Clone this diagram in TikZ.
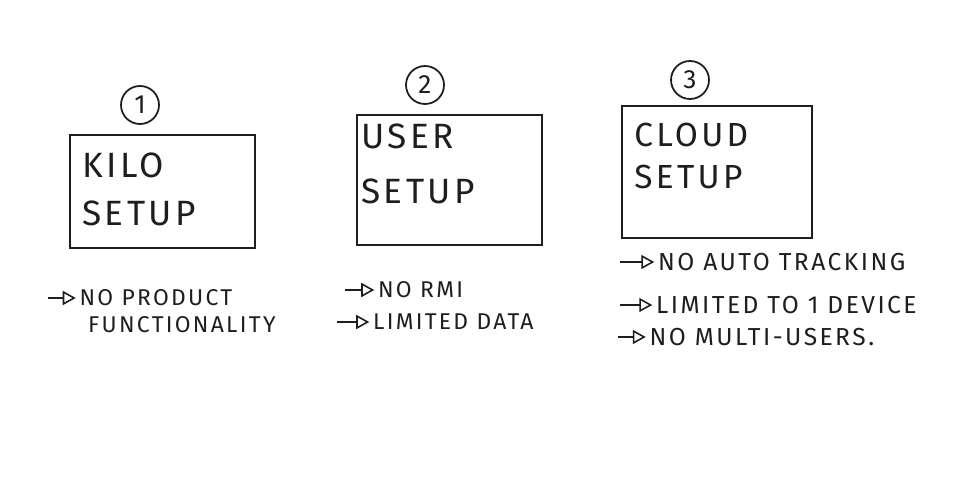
\documentclass[tikz,border=0pt]{standalone}
\usepackage{fontspec}
\setmainfont{Fira Sans}[LetterSpace=10]
\usetikzlibrary{arrows.meta,positioning}
\usepackage{xcolor}
\definecolor{tinta}{RGB}{30,30,30}

\begin{document}
\begin{tikzpicture}[
  setupbox/.style={rectangle, draw=tinta, line width=1.2pt, inner sep=0pt},
  boxtext/.style={font=\fontsize{20}{27}\selectfont, text=tinta, align=left, inner sep=0pt},
  stepnum/.style={circle, draw=tinta, line width=1pt, minimum size=0.76cm, inner sep=0pt,
                  font=\fontsize{15}{15}\selectfont, text=tinta},
  note/.style={font=\fontsize{13}{15}\selectfont, text=tinta, anchor=west, inner sep=1pt},
  bignote/.style={note, font=\fontsize{14}{16}\selectfont},
  bullet/.style={draw=tinta, line width=0.9pt, shorten >=1pt,
                 -{Triangle[open, length=2.6mm, width=2.8mm]}}]
\useasboundingbox (0,0) rectangle (19.4,-10);
% setup boxes
\node[setupbox, minimum width=3.7cm, minimum height=2.26cm] (kilo) at (3.25,-3.83) {};
\node[setupbox, minimum width=3.7cm, minimum height=2.6cm] (user) at (8.99,-3.6) {};
\node[setupbox, minimum width=3.8cm, minimum height=2.64cm] (cloud) at (14.34,-3.44) {};
\node[boxtext, below right=0.38cm and 0.26cm of kilo.north west] (kilotxt) {KILO\\SETUP};
\node[boxtext, below right=0.2cm and 0.1cm of user.north west, font=\fontsize{20}{31}\selectfont] (usertxt) {USER\\SETUP};
\node[boxtext, below right=0.36cm and 0.26cm of cloud.north west, font=\fontsize{19}{24}\selectfont] (cloudtxt) {CLOUD\\SETUP};
% numbers
\node[stepnum] (n1) at (2.8,-2.1) {1};
\node[stepnum] (n2) at (8.5,-1.7) {2};
\node[stepnum] (n3) at (13.8,-1.6) {3};
% notes
\node[note] (prod) at (1.55,-5.96) {NO PRODUCT};
\node[note] (funct) at (1.72,-6.5) {FUNCTIONALITY};
\node[note] (rmi) at (7.52,-5.8) {NO RMI};
\node[note] (ldata) at (7.42,-6.44) {LIMITED DATA};
\node[bignote] (track) at (13.12,-5.24) {NO AUTO TRACKING};
\node[bignote] (device) at (13.08,-6.1) {LIMITED TO 1 DEVICE};
\node[bignote] (multi) at (12.95,-6.74) {NO MULTI-USERS.};
\coordinate (p1) at (0.96,-5.96);
\coordinate (p2) at (6.9,-5.8);
\coordinate (p3) at (6.74,-6.44);
\coordinate (p4) at (12.4,-5.24);
\coordinate (p5) at (12.4,-6.1);
\coordinate (p6) at (12.36,-6.74);
\draw[bullet] (p1) -- (prod);
\draw[bullet] (p2) -- (rmi);
\draw[bullet] (p3) -- (ldata);
\draw[bullet] (p4) -- (track);
\draw[bullet] (p5) -- (device);
\draw[bullet] (p6) -- (multi);
\end{tikzpicture}
\end{document}
